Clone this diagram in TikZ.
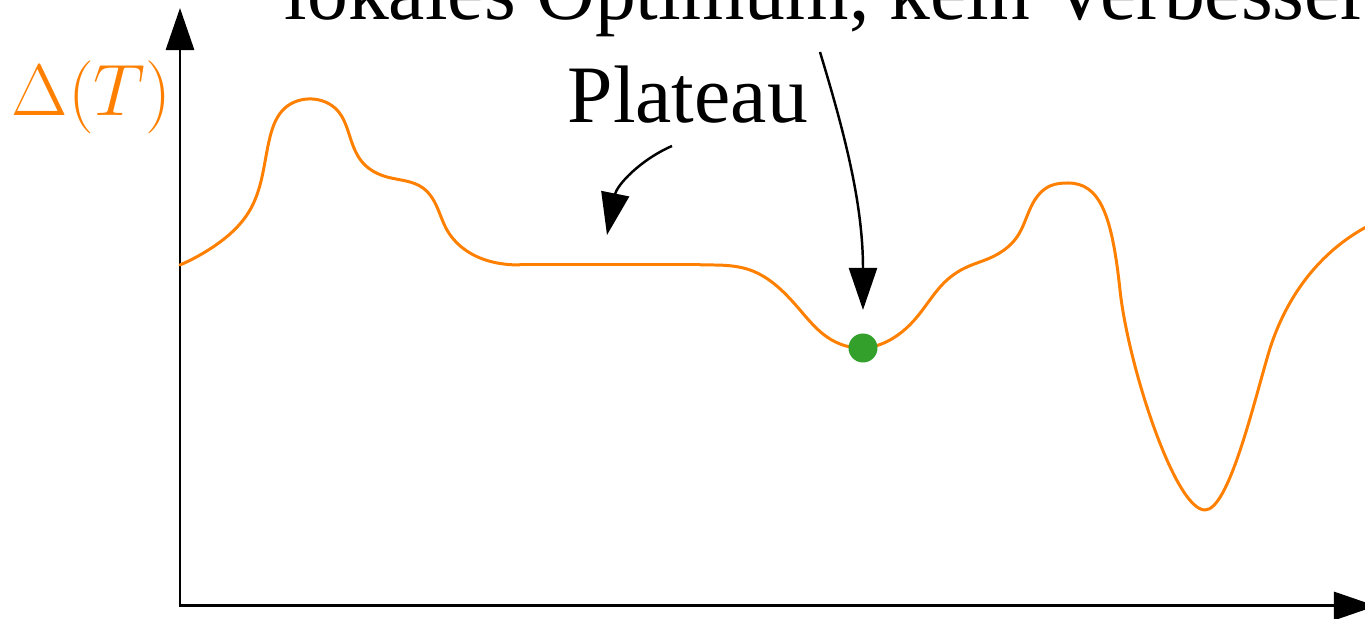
\documentclass[tikz,border=0pt]{standalone}
\usepackage[no-math]{fontspec}
\setmainfont{Liberation Serif}
\usetikzlibrary{arrows.meta,hobby}

\definecolor{curveorange}{RGB}{255,128,0}
\definecolor{dotgreen}{RGB}{51,160,44}

\tikzset{
  axis/.style={line width=0.85pt, -{Triangle[length=12pt,width=8pt]}},
  pointer/.style={line width=0.7pt, -{Triangle[length=12pt,width=8pt]}},
  landscape/.style={curveorange, line width=0.85pt, line join=round, line cap=round},
  label/.style={inner sep=0pt, font=\fontsize{23.2}{27}\selectfont},
}

\begin{document}
\begin{tikzpicture}[x=0.01cm, y=-0.01cm]
  \useasboundingbox (0,0) rectangle (1365,619);

  % axes
  \coordinate (origin) at (180,606);
  \coordinate (ytip) at (180,8);
  \coordinate (xtip) at (1376,606);
  \draw[axis] (origin) -- (ytip);
  \draw[axis] ([xshift=-0.42pt]origin) -- (xtip);

  % axis label
  \node[anchor=base west, inner sep=0pt, text=curveorange,
        font=\fontsize{21}{25}\selectfont] (ylab) at (11,116) {$\Delta(T)$};

  % objective landscape: hill, plateau, local dip, hill, deep valley
  \draw[landscape, use Hobby shortcut] (180,265) .. (213,247) .. (250,210)
    .. (262,177) .. (270,137) .. (285,108) .. (312,99) .. (337,110)
    .. (350,137) .. (363,163) .. (387,177) .. (423,188) .. (437,207)
    .. (447,230) .. (470,253) .. ([in angle=180]520,265);
  \draw[landscape] (520,265) -- (700,265);
  \draw[landscape, use Hobby shortcut] ([out angle=0]700,265) .. (750,270)
    .. (800,310) .. (827,337) .. (863,348) .. (890,340) .. (917,317)
    .. (947,280) .. (967,267) .. (990,258) .. (1017,237) .. (1033,203)
    .. (1050,186) .. ([in angle=180]1068,183);
  \draw[landscape] (1068,183)
    .. controls (1100,183) and (1112,215) .. (1120,290)
    .. controls (1128,365) and (1175,510) .. (1205,510)
    .. controls (1228,510) and (1252,410) .. (1268,355)
    .. controls (1284,300) and (1320,245) .. (1385,218);

  % local optimum
  \node[circle, fill=dotgreen, inner sep=0pt, minimum size=0.29cm]
    (lopt) at (863,348) {};

  % labels
  \node[label, anchor=base west] (plateau) at (567,123) {Plateau};
  \node[label, anchor=base west] (optlab) at (284,20)
    {lokales Optimum, kein Verbesserungsschritt};

  % pointers
  \coordinate (platTail) at (672,146);
  \coordinate (platHead) at (607,235);
  \draw[pointer] (platTail) .. controls (640,160) and (617,185) .. (platHead);

  \coordinate (optTail) at (820,52);
  \coordinate (optHead) at (863,310);
  \draw[pointer] (optTail) .. controls (842,125) and (863,200) .. (optHead);
\end{tikzpicture}
\end{document}
